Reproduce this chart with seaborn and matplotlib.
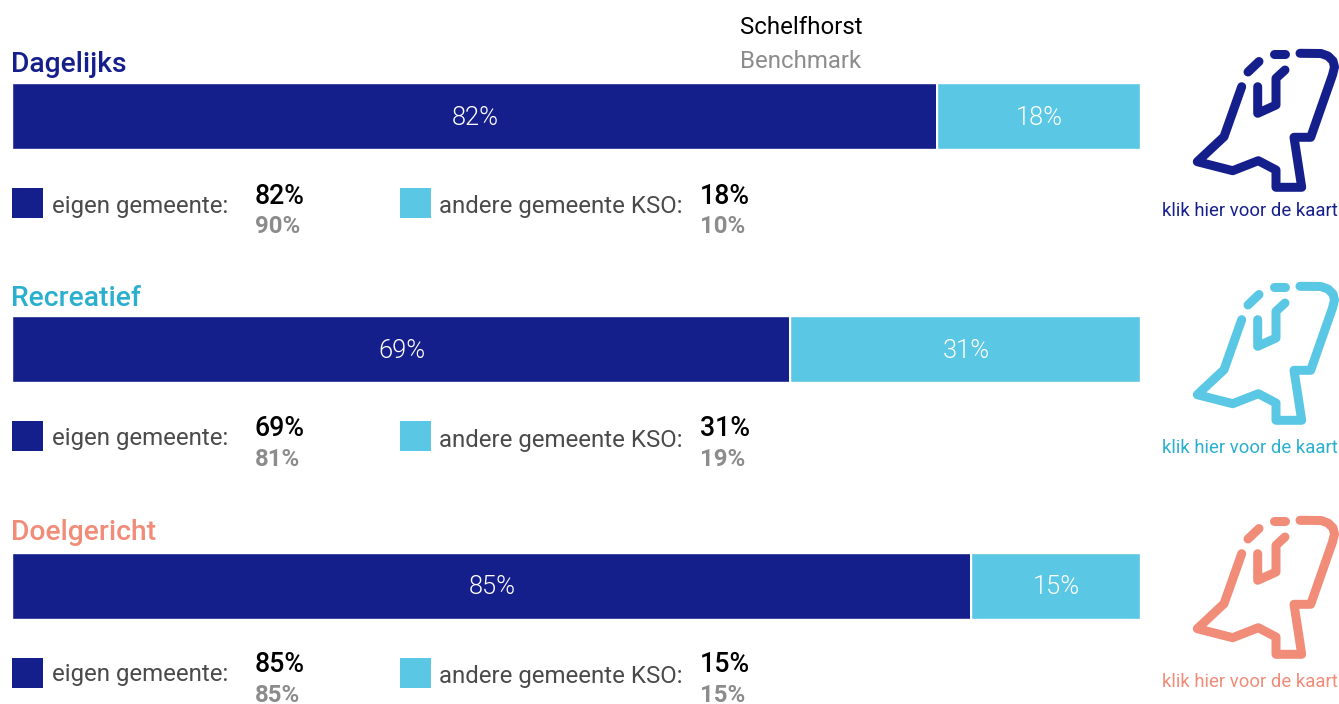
import pandas as pd
import seaborn as sns
import matplotlib
matplotlib.use('Agg')
import matplotlib.pyplot as plt
from matplotlib.lines import Line2D
from matplotlib.patches import Rectangle

sns.set_style('white')
plt.rcParams['font.family'] = ['Roboto', 'DejaVu Sans']

# data
groups = ['Dagelijks', 'Recreatief', 'Doelgericht']
eigen = [82, 69, 85]
andere = [18, 31, 15]
bench_eigen = [90, 81, 85]
bench_andere = [10, 19, 15]

# colours
NAVY = '#151F8C'
LIGHT = '#5AC8E4'
title_colors = ['#151F8C', '#2AAFCF', '#F08C78']
icon_colors = ['#151F8C', '#5AC8E4', '#F08C78']
GREY = '#8C8C8C'
DARK = '#4A4A4A'

W, H = 1339, 704
BAR_L, BAR_R = 12.4, 1140

# pixel rows per group
bar_tops = [83, 316, 553]
bar_bots = [149.4, 382.4, 618.6]
title_y = [64, 298, 533]
sq1_top = [188, 421, 658]
sq2_top = [188, 421, 658]
lab1_y = [206, 439, 675]
lab2_y = [207, 440, 676]
val_y = [196, 429, 665]
ben_y = [226.6, 459.6, 695]
kaart_y = [211, 448, 682]
icon_dy = [0, 233, 467]

fig = plt.figure(figsize=(W / 100, H / 100), dpi=100)

# overlay in pixel coordinates for text, squares and icons
ov = fig.add_axes([0, 0, 1, 1], zorder=2)
ov.set_xlim(0, W)
ov.set_ylim(H, 0)
ov.axis('off')


def px(pt):
    return pt * 72 / 100


# Netherlands icon, pixel coordinates of the first one
outline = [(1241.7, 86.7), (1224, 136.7), (1197.3, 161.7), (1232.7, 170.7), (1258.3, 160.7),
           (1276, 170), (1276, 187.3), (1301.7, 187.3), (1294, 137.3), (1310.7, 137.3),
           (1332.5, 75), (1334.5, 67), (1333, 61), (1328, 56), (1321, 53.5), (1300, 53.3)]
dash1 = [(1248, 72), (1259, 61.5)]
dash2 = [(1274, 54), (1285, 54)]
inner = [(1257.7, 86.7), (1257.7, 113.3), (1276, 105), (1276, 78.3), (1285, 70)]


def draw_icon(dy, color):
    for path in (outline, dash1, dash2, inner):
        xs = [p[0] for p in path]
        ys = [p[1] + dy for p in path]
        ov.add_line(Line2D(xs, ys, color=color, lw=px(9), solid_capstyle='round',
                           solid_joinstyle='round'))


ov.text(740, 27, 'Schelfhorst', color='black', fontsize=px(24), va='center')
ov.text(740, 61, 'Benchmark', color=GREY, fontsize=px(24), va='center')

for i, name in enumerate(groups):
    left = BAR_L / W
    bottom = 1 - bar_bots[i] / H
    ax = fig.add_axes([left, bottom, (BAR_R - BAR_L) / W, (bar_bots[i] - bar_tops[i]) / H])
    df = pd.DataFrame({'groep': [name], 'eigen': [eigen[i]], 'andere': [andere[i]]})
    sns.barplot(data=df, x='eigen', y='groep', color=NAVY, saturation=1, width=1, ax=ax)
    sns.barplot(data=df, x='andere', y='groep', color=LIGHT, saturation=1, width=1,
                left=eigen[i], ax=ax)
    ax.set_xlim(0, 100)
    ax.set_ylim(0.5, -0.5)
    ax.axis('off')
    ax.axvline(eigen[i], color='white', lw=px(2))
    for c in ax.containers:
        for t in ax.bar_label(c, fmt='%g%%', label_type='center', color='white', fontsize=px(25.5),
                              fontweight=300):
            t.xyann = (0.5, -1)

    ov.text(11, title_y[i], name, color=title_colors[i], fontsize=px(28.3), fontweight='medium',
            va='center')

    ov.add_patch(Rectangle((12, sq1_top[i]), 31, 30, color=NAVY, lw=0))
    ov.add_patch(Rectangle((400, sq2_top[i]), 31, 30, color=LIGHT, lw=0))
    ov.text(52, lab1_y[i], 'eigen gemeente:', color=DARK, fontsize=px(24), va='center')
    ov.text(439, lab2_y[i], 'andere gemeente KSO:', color=DARK, fontsize=px(24), va='center')
    ov.text(255, val_y[i], f'{eigen[i]}%', color='black', fontsize=px(26.7), fontweight='medium',
            va='center')
    ov.text(255, ben_y[i], f'{bench_eigen[i]}%', color=GREY, fontsize=px(24), fontweight='bold',
            va='center')
    ov.text(700, val_y[i], f'{andere[i]}%', color='black', fontsize=px(26.7), fontweight='medium',
            va='center')
    ov.text(700, ben_y[i], f'{bench_andere[i]}%', color=GREY, fontsize=px(24), fontweight='bold',
            va='center')

    draw_icon(icon_dy[i], icon_colors[i])
    ov.text(1338, kaart_y[i], 'klik hier voor de kaart', color=title_colors[i], fontsize=px(18.5),
            ha='right', va='center')

fig.savefig('out.png', dpi=100)
